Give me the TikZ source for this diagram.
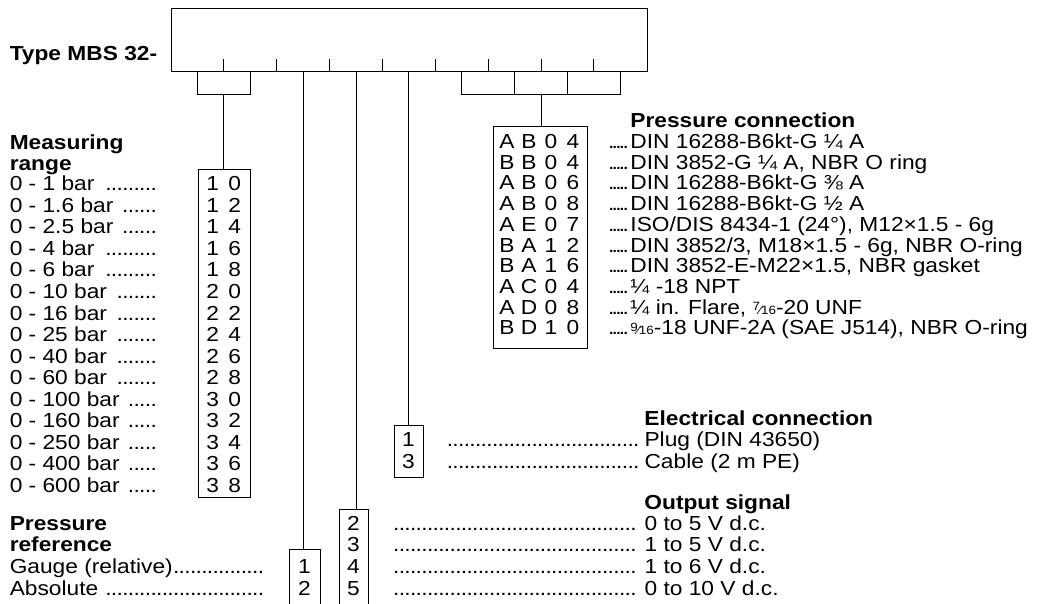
\documentclass[tikz,border=0pt]{standalone}
\usepackage{fontspec}
\setmainfont{Liberation Sans}[FakeStretch=1.12]
\usetikzlibrary{calc}

% dot leaders and code letters
\newcommand\dotlead{\leaders\hbox to .278em{\hss.\hss}\hfill}
\newcommand\dotrow[2]{\hbox to #1{#2\dotlead}}
\newcommand\shortdots{\hbox to 18pt{\leaders\hbox to 3.6pt{\hss.\hss}\hfill}}
\newcommand\pcode[1]{\expandafter\pcodeloop#1\relax}
\def\pcodeloop#1{\ifx\relax#1\else\hbox to 22pt{\hss#1\hss}\expandafter\pcodeloop\fi}
\newcommand\frc[2]{{\fontsize{12}{12}\selectfont\raisebox{.55ex}{#1}\kern-.05em⁄\kern-.05em#2}}

\begin{document}
\begin{tikzpicture}[x=1pt,y=-1pt,line width=0.9pt,
	font=\fontsize{20.3}{21.5}\selectfont,
	lbl/.style={anchor=base west,inner sep=0pt},
	hdr/.style={anchor=base west,inner sep=0pt,font=\fontsize{20.3}{21.5}\selectfont\bfseries},
	codetxt/.style={anchor=base,inner sep=0pt},
	codebox/.style={draw,anchor=north west,inner sep=0pt}]
		\clip (0,0) rectangle (1042,603);
		% type field
		\node[hdr] (type) at (9.3,60.7) {Type MBS 32-};
		\node[codebox,minimum width=475.7pt,minimum height=62.7pt] (tbox) at (171,8) {};
		\foreach \i in {0,...,8}
			\coordinate (s\i) at ($(tbox.south west)+(52.86*\i+26.43,0)$);
		\foreach \i in {1,...,8}
			\draw ($(tbox.south west)+(52.86*\i,0)$) coordinate (t\i) -- ++(0,-13);
		\draw (s0) -- ++(0,23.3) -| (s1);
		\coordinate (b1) at ($(t1)+(0,23.3)$);
		\draw (s5) -- ++(0,23.3) -| (s8);
		\draw (s6) -- ++(0,23.3) (s7) -- ++(0,23.3);
		\coordinate (b7) at ($(t7)+(0,23.3)$);
		% measuring range
		\node[hdr] (mrhead) at (9.3,149.3) {Measuring};
		\node[hdr] (mrhead2) at (9.3,170.8) {range};
		\node[codebox,minimum width=52pt,minimum height=328pt] (mr) at (197.7,169) {};
		\draw (b1) -- (b1 |- mr.north);
		\foreach \rng/\cod [count=\i from 0] in {1/10,1.6/12,2.5/14,4/16,6/18,10/20,16/22,25/24,40/26,60/28,100/30,160/32,250/34,400/36,600/38} {
			\node[lbl] (mr\cod) at (9.3,190.7+21.55*\i) {\dotrow{150pt}{0 - \rng\ bar\ }};
			\node[codetxt] (mrc\cod) at (223.7,190.7+21.55*\i) {\pcode{\cod}};
		}
		% pressure reference
		\node[hdr] (prhead) at (9.3,530) {Pressure};
		\node[hdr] (prhead2) at (9.3,551.7) {reference};
		\node[codebox,minimum width=31pt,minimum height=70pt] (pr) at (289,549.3) {};
		\draw (s2) -- (s2 |- pr.north);
		\foreach \cod/\txt [count=\i from 0] in {1/{Gauge (relative)},2/{Absolute\ }} {
			\node[lbl] (pr\cod) at (9.3,573.3+21.7*\i) {\dotrow{255.7pt}{\txt}};
			\node[codetxt] (prc\cod) at (304.5,573.3+21.7*\i) {\cod};
		}
		% output signal
		\node[hdr] (oshead) at (644,509) {Output signal};
		\node[codebox,minimum width=29pt,minimum height=110pt] (os) at (339,509.3) {};
		\draw (s3) -- (s3 |- os.north);
		\foreach \cod/\txt [count=\i from 0] in {2/{0 to 5 V d.c.},3/{1 to 5 V d.c.},4/{1 to 6 V d.c.},5/{0 to 10 V d.c.}} {
			\node[lbl] (os\cod) at (393,530+21.67*\i) {\dotrow{247pt}{}\hspace{4pt}\txt};
			\node[codetxt] (osc\cod) at (353.5,530+21.67*\i) {\cod};
		}
		% electrical connection
		\node[hdr] (elhead) at (644,425) {Electrical connection};
		\node[codebox,minimum width=29pt,minimum height=51.7pt] (el) at (394,425) {};
		\draw (s4) -- (s4 |- el.north);
		\foreach \cod/\txt [count=\i from 0] in {1/{Plug (DIN 43650)},3/{Cable (2 m PE)}} {
			\node[lbl] (el\cod) at (446.7,446.7+21.6*\i) {\dotrow{193.3pt}{}\hspace{4pt}\txt};
			\node[codetxt] (elc\cod) at (408.5,446.7+21.6*\i) {\cod};
		}
		% pressure connection
		\node[hdr] (pchead) at (630,127) {Pressure connection};
		\node[codebox,minimum width=94pt,minimum height=222pt] (pc) at (493,126) {};
		\draw (b7) -- (b7 |- pc.north);
		\foreach \cod/\txt [count=\i from 0] in {AB04/{DIN 16288-B6kt-G ¼ A},BB04/{DIN 3852-G ¼ A, NBR O ring},AB06/{DIN 16288-B6kt-G ⅜ A},AB08/{DIN 16288-B6kt-G ½ A},AE07/{ISO/DIS 8434-1 (24°), M12×1.5 - 6g},BA12/{DIN 3852/3, M18×1.5 - 6g, NBR O-ring},BA16/{DIN 3852-E-M22×1.5, NBR gasket},AC04/{¼ -18 NPT},AD08/{¼ in. Flare, \frc{7}{16}-20 UNF},BD10/{\frc{9}{16}-18 UNF-2A (SAE J514), NBR O-ring}} {
			\node[lbl] (pc\cod) at (609,148.3+20.74*\i) {\shortdots\hspace{3pt}\txt};
			\node[codetxt] (pcc\cod) at (540,148.3+20.74*\i) {\pcode{\cod}};
		}
	\end{tikzpicture}
\end{document}
